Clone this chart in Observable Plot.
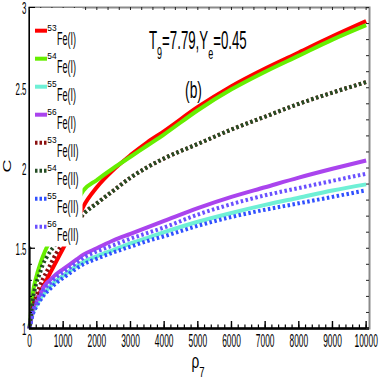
<!DOCTYPE html>
<html><head><meta charset="utf-8">
<script src="https://cdn.jsdelivr.net/npm/d3@7"></script>
<script src="https://cdn.jsdelivr.net/npm/@observablehq/plot@0.6"></script>
<style>html,body{margin:0;padding:0;background:#fff}#chart{width:382px;height:382px}</style>
</head><body><div id="chart"></div>
<script>
// ---- data ----
const rho = [0,100,200,300,400,500,600,800,1000,1200,1400,1600,2000,2500,3000,3500,4000,5000,6000,7000,8000,9000,10000];
const fe53I  = [1.00,1.12,1.17,1.22,1.26,1.30,1.34,1.42,1.50,1.58,1.67,1.76,1.88,1.99,2.08,2.16,2.23,2.38,2.51,2.62,2.72,2.82,2.915];
const fe54I  = [1.00,1.22,1.32,1.39,1.45,1.50,1.54,1.61,1.67,1.73,1.79,1.86,1.925,2.00,2.07,2.14,2.21,2.36,2.49,2.60,2.70,2.80,2.89];
const fe55I  = [1.00,1.10,1.145,1.18,1.21,1.235,1.26,1.30,1.33,1.36,1.39,1.415,1.45,1.49,1.53,1.565,1.60,1.665,1.72,1.77,1.815,1.86,1.898];
const fe56I  = [1.00,1.12,1.17,1.21,1.25,1.28,1.30,1.34,1.37,1.40,1.43,1.46,1.50,1.55,1.59,1.63,1.67,1.75,1.82,1.88,1.94,1.995,2.047];
const fe53II = [1.00,1.13,1.20,1.26,1.31,1.35,1.39,1.47,1.53,1.59,1.65,1.713,1.78,1.86,1.94,2.005,2.06,2.15,2.24,2.32,2.40,2.47,2.535];
const fe54II = [1.00,1.18,1.28,1.34,1.40,1.44,1.475,1.53,1.58,1.63,1.67,1.713,1.78,1.86,1.94,2.005,2.06,2.15,2.24,2.32,2.40,2.47,2.535];
const fe55II = [1.00,1.09,1.135,1.17,1.20,1.225,1.245,1.285,1.315,1.345,1.375,1.40,1.435,1.475,1.51,1.545,1.575,1.64,1.695,1.74,1.78,1.82,1.861];
const fe56II = [1.00,1.11,1.155,1.195,1.23,1.26,1.28,1.32,1.35,1.38,1.41,1.44,1.48,1.52,1.56,1.595,1.63,1.71,1.775,1.83,1.875,1.92,1.964];

const massNumbers = ["53","54","55","56","53","54","55","56"];
const ionLabels   = ["Fe(I)","Fe(I)","Fe(I)","Fe(I)","Fe(II)","Fe(II)","Fe(II)","Fe(II)"];
const seriesColors = ["#ff0000","#66ee00","#6ff0d6","#aa44ee","#8b1010","#244d24","#3050ff","#6a50ff"];
const seriesDotted = [false,false,false,false,true,true,true,true];
const seriesOffset = [0,0,0,0,0,2.5,0,0];

const xTickValues = [0,1000,2000,3000,4000,5000,6000,7000,8000,9000,10000];
const xTickLabels = ["0","1000","2000","3000","4000","5000","6000","7000","8000","9000","10000"];
const yTickValues = [1,1.5,2,2.5,3];
const yTickLabels = ["1","1.5","2","2.5","3"];
const xMinorTicks = d3.range(0, 10001, 200);
const xTopTicks = d3.range(0, 10001, 1000/3);
const yMinorTicks = d3.range(10, 31, 1).map(d => d / 10);

const titleMain = ["T","=7.79,Y","=0.45"];
const titleSubs = ["9","e"];
const panelTag = "(b)";
const yLabel = "C";
const xLabelMain = "ρ", xLabelSub = "7";

// ---- chart ----
const series = [fe53I, fe54I, fe55I, fe56I, fe53II, fe54II, fe55II, fe56II];
const rows = series.flatMap((vals, s) => rho.map((r, i) => ({rho: r, c: vals[i], s})));

const W = 382, H = 382, mL = 29, mR = 13, mT = 7, mB = 54;
const plotW = W - mL - mR, plotH = H - mT - mB;

const marks = [];
series.forEach((_, s) => {
  marks.push(Plot.line(rows.filter(d => d.s === s), {
    x: "rho", y: "c", stroke: seriesColors[s], strokeWidth: 4,
    strokeDasharray: seriesDotted[s] ? "2.5,2.5" : null,
    strokeDashoffset: seriesOffset[s], strokeLinecap: "butt", strokeLinejoin: "miter",
    curve: "monotone-x"
  }));
});
marks.push(
  Plot.frame({stroke: "#8a8a8a", strokeWidth: 2}),
  Plot.ruleX([0], {stroke: "black", strokeWidth: 2}),
  Plot.ruleY([1], {stroke: "black", strokeWidth: 2.5}),
  Plot.tickX(xMinorTicks, {x: d => d, insetTop: plotH - 3.5, stroke: "black", strokeWidth: 1.2}),
  Plot.tickX(xTickValues, {x: d => d, insetTop: plotH - 7, stroke: "black", strokeWidth: 1.4}),
  Plot.tickX(xTopTicks, {x: d => d, insetBottom: plotH - 3, stroke: "#222", strokeWidth: 1}),
  Plot.tickY(yMinorTicks, {y: d => d, insetRight: plotW - 3, stroke: "black", strokeWidth: 1}),
  Plot.tickY(yTickValues, {y: d => d, insetRight: plotW - 6, stroke: "black", strokeWidth: 1.2}),
  Plot.tickY(yMinorTicks, {y: d => d, insetLeft: plotW - 3, stroke: "#222", strokeWidth: 1}),
  Plot.text(xTickValues, {x: d => d, text: (d, i) => xTickLabels[i], frameAnchor: "bottom", lineAnchor: "top", dy: 6, fontSize: 17.5, fill: "black"}),
  Plot.text(yTickValues, {y: d => d, text: (d, i) => yTickLabels[i], frameAnchor: "left", textAnchor: "end", dx: -3, dy: 1.5, fontSize: 16.5, fill: "black"})
);

const chart = Plot.plot({
  width: W, height: H,
  marginLeft: mL, marginRight: mR, marginTop: mT, marginBottom: mB,
  x: {domain: [0, 10100], axis: null},
  y: {domain: [1, 3], axis: null},
  style: {fontFamily: "Liberation Sans, Arial, sans-serif", background: "white", color: "black"},
  marks
});
document.getElementById("chart").appendChild(chart);

// condense Plot's tick labels horizontally around their anchor
chart.querySelectorAll("text").forEach(node => {
  const x = +node.getAttribute("x") || 0;
  const t = node.getAttribute("transform") || "";
  node.setAttribute("transform", `${t} translate(${x},0) scale(0.48,1) translate(${-x},0)`);
});

const svg = d3.select(chart);
const ann = svg.append("g").attr("font-family", "Liberation Sans, Arial, sans-serif")
  .attr("fill", "black").attr("text-anchor", "start");
// text placed at (x, y) and condensed horizontally by s
function label(parent, x, y, s, size) {
  return parent.append("text").attr("font-size", size)
    .attr("transform", `translate(${x},${y}) scale(${s},1)`);
}

// legend (white box over the plot's upper-left corner)
const leg = ann.append("g");
leg.append("rect").attr("x", 30).attr("y", 8).attr("width", 52.5).attr("height", 238.5).attr("fill", "white");
massNumbers.forEach((m, i) => {
  const y = 30.7 + i * 28;
  leg.append("line").attr("x1", 35).attr("x2", 47).attr("y1", y).attr("y2", y)
    .attr("stroke", seriesColors[i]).attr("stroke-width", 4)
    .attr("stroke-dasharray", seriesDotted[i] ? "2.5,2" : null);
  label(leg, 47.3, y + 0.3, 0.95, 8.8).text(m);
  label(leg, 57, y + 14.3, 0.5, 18).text(ionLabels[i]);
});

// title
const tt = label(ann, 149, 49, 0.53, 25);
tt.append("tspan").text(titleMain[0]);
tt.append("tspan").attr("font-size", 17).attr("dy", 10).text(titleSubs[0]);
tt.append("tspan").attr("dy", -10).text(titleMain[1]);
tt.append("tspan").attr("font-size", 17).attr("dy", 10).text(titleSubs[1]);
tt.append("tspan").attr("dy", -10).text(titleMain[2]);

label(ann, 193.5, 98, 0.6, 23).attr("text-anchor", "middle").text(panelTag);

// axis labels
ann.append("text").attr("font-size", 18).attr("text-anchor", "middle")
  .attr("transform", "translate(11,166) scale(0.6,1) rotate(-90)").text(yLabel);
const xl = label(ann, 191.5, 368, 0.68, 20);
xl.append("tspan").text(xLabelMain);
xl.append("tspan").attr("font-size", 14).attr("dy", 9).text(xLabelSub);
</script>
</body></html>
